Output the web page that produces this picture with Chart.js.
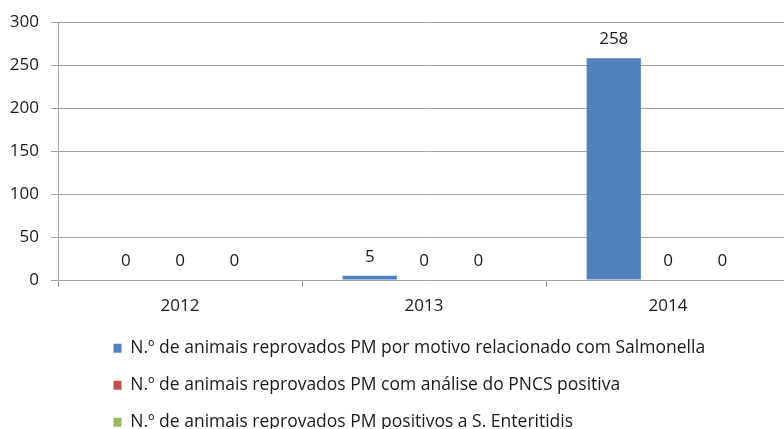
<!DOCTYPE html>
<html>
<head>
<meta charset="utf-8">
<script src="https://cdn.jsdelivr.net/npm/chart.js@4/dist/chart.umd.min.js"></script>
<style>
  html, body { margin: 0; padding: 0; background: #fff; overflow: hidden; }
  #wrap { width: 800px; height: 441px; }
</style>
</head>
<body>
<div id="wrap"><canvas id="c" width="800" height="441"></canvas></div>
<script>
const categories = ['2012', '2013', '2014'];
const seriesNames = [
  'N.º de animais reprovados PM por motivo relacionado com Salmonella',
  'N.º de animais reprovados PM com análise do PNCS positiva',
  'N.º de animais reprovados PM positivos a S. Enteritidis'
];
const salmonella = [0, 5, 258];
const pncsPositiva = [0, 0, 0];
const enteritidis = [0, 0, 0];
const yTicks = [0, 50, 100, 150, 200, 250, 300];
const seriesColors = ['#4F81BD', '#C0504D', '#9BBB59'];

const FONT = '"Open Sans", sans-serif';
const TEXT = '#1a1a1a';
const GRID = '#a3a3a3';

const valueLabels = {
  id: 'valueLabels',
  afterDatasetsDraw(chart) {
    const ctx = chart.ctx;
    ctx.save();
    ctx.font = '17px ' + FONT;
    ctx.fillStyle = TEXT;
    ctx.textAlign = 'center';
    ctx.textBaseline = 'alphabetic';
    chart.data.datasets.forEach((ds, i) => {
      const meta = chart.getDatasetMeta(i);
      meta.data.forEach((el, j) => {
        ctx.fillText(String(ds.data[j]), el.x, el.y - 14);
      });
    });
    ctx.restore();
  }
};

const legendShift = {
  id: 'legendShift',
  beforeDraw(chart) {
    if (chart.legend) chart.legend.left = 94;
  }
};

new Chart(document.getElementById('c'), {
  type: 'bar',
  data: {
    labels: categories,
    datasets: [
      { label: seriesNames[0], data: salmonella, backgroundColor: seriesColors[0], borderWidth: 0 },
      { label: seriesNames[1], data: pncsPositiva, backgroundColor: seriesColors[1], borderWidth: 0 },
      { label: seriesNames[2], data: enteritidis, backgroundColor: seriesColors[2], borderWidth: 0 }
    ]
  },
  options: {
    responsive: false,
    animation: false,
    devicePixelRatio: 1,
    categoryPercentage: 0.667,
    barPercentage: 1.0,
    layout: { padding: { top: 22, right: 10, left: 0, bottom: 0 } },
    plugins: {
      tooltip: { enabled: false },
      legend: {
        position: 'bottom',
        align: 'start',
        labels: {
          font: { family: FONT, size: 17.5 },
          color: TEXT,
          boxWidth: 8,
          boxHeight: 9,
          padding: 19.5
        }
      }
    },
    scales: {
      x: {
        grid: { drawOnChartArea: false, drawTicks: true, tickLength: 7, color: GRID, offset: true },
        border: { color: GRID, width: 1 },
        ticks: { font: { family: FONT, size: 17 }, color: TEXT, padding: 9 },
        afterFit(s) { s.height = 40; }
      },
      y: {
        min: 0,
        max: 300,
        afterBuildTicks(s) { s.ticks = yTicks.map(v => ({ value: v })); },
        grid: { color: GRID, tickLength: 7, drawTicks: true },
        border: { color: GRID, width: 1 },
        ticks: { font: { family: FONT, size: 17 }, color: TEXT, padding: 12 },
        afterFit(s) { s.width = 58; }
      }
    }
  },
  plugins: [valueLabels, legendShift]
});
</script>
</body>
</html>
